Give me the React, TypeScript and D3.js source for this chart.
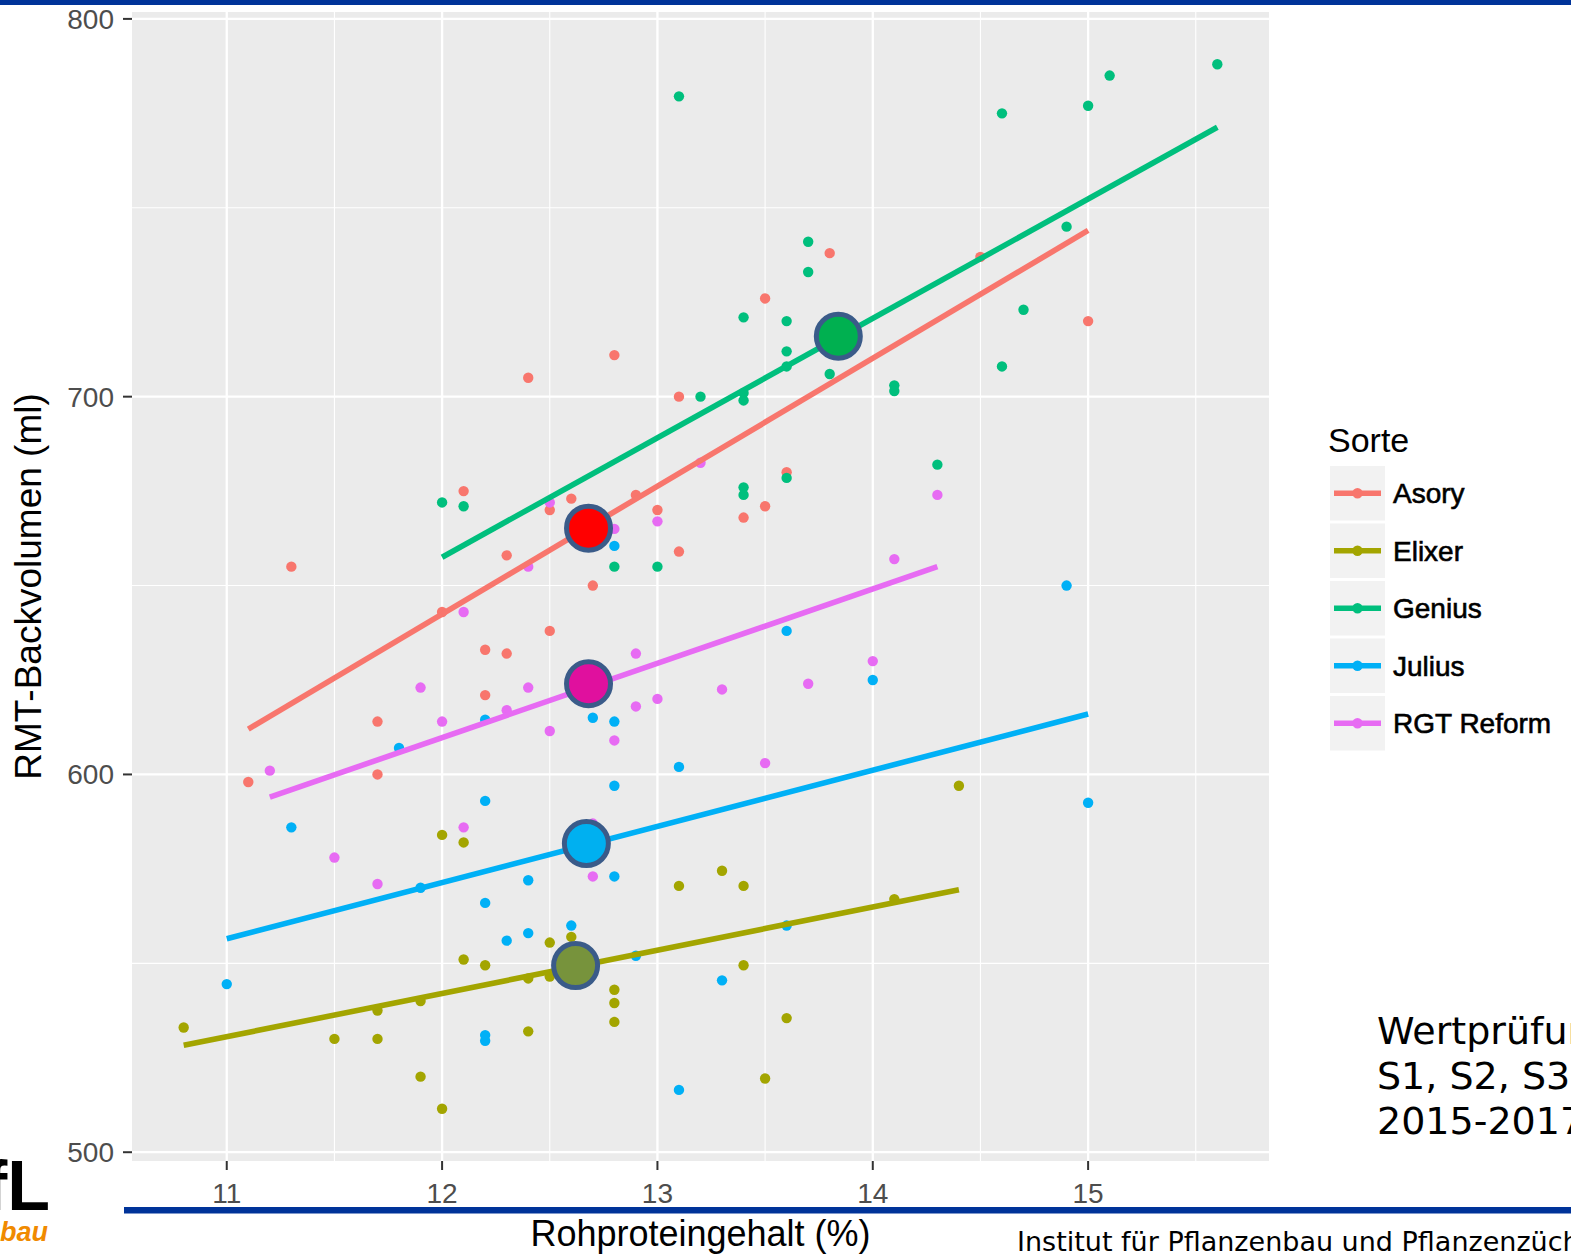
import React from "react";
import * as d3 from "d3";

const W = 1571;
const H = 1257;

// Varieties and their ggplot hue colours
const varieties = ["Asory", "Elixer", "Genius", "Julius", "RGT Reform"];
const colors = ["#F8766D", "#A3A500", "#00BF7D", "#00B0F6", "#E76BF3"];

// Single observations: [Rohproteingehalt %, RMT-Backvolumen ml]
const asory: [number, number][] = [
  [11.1, 598], [11.3, 655], [11.7, 614], [11.7, 600], [12.0, 643], [12.1, 675],
  [12.2, 633], [12.2, 621], [12.3, 658], [12.3, 632], [12.4, 705], [12.5, 670],
  [12.5, 638], [12.6, 673], [12.7, 650], [12.8, 711], [12.9, 674], [13.0, 670],
  [13.1, 700], [13.1, 659], [13.4, 668], [13.5, 726], [13.5, 671], [13.6, 680],
  [13.8, 738], [14.5, 737], [15.0, 720],
];
const elixer: [number, number][] = [
  [10.8, 533], [11.5, 530], [11.7, 530], [11.7, 537.5], [11.9, 540], [11.9, 520],
  [12.0, 584], [12.0, 511.5], [12.1, 582], [12.1, 551], [12.2, 549.5], [12.4, 546],
  [12.4, 532], [12.5, 555.5], [12.5, 546.5], [12.6, 557], [12.8, 543], [12.8, 539.5],
  [12.8, 534.5], [13.1, 570.5], [13.3, 574.5], [13.4, 570.5], [13.4, 549.5],
  [13.5, 519.5], [13.6, 535.5], [14.1, 567], [14.4, 597],
];
const genius: [number, number][] = [
  [12.0, 672], [12.1, 671], [12.8, 655], [13.0, 655], [13.1, 779.5], [13.2, 700],
  [13.4, 721], [13.4, 701], [13.4, 699], [13.4, 676], [13.4, 674], [13.6, 720],
  [13.6, 712], [13.6, 708], [13.6, 678.5], [13.7, 741], [13.7, 733], [13.8, 706],
  [14.1, 703], [14.1, 701.5], [14.3, 682], [14.6, 775], [14.6, 708], [14.7, 723],
  [14.9, 745], [15.0, 777], [15.1, 785], [15.6, 788],
];
const julius: [number, number][] = [
  [11.0, 544.5], [11.3, 586], [11.8, 607], [11.9, 570], [12.2, 614.5], [12.2, 593],
  [12.2, 566], [12.2, 531], [12.2, 529.5], [12.3, 556], [12.4, 572], [12.4, 558],
  [12.6, 560], [12.7, 615], [12.8, 660.5], [12.8, 614], [12.8, 597], [12.8, 573],
  [12.9, 552], [13.1, 602], [13.1, 516.5], [13.3, 545.5], [13.6, 638], [13.6, 560],
  [14.0, 625], [14.9, 650], [15.0, 592.5],
];
const rgtReform: [number, number][] = [
  [11.2, 601], [11.5, 578], [11.7, 571], [11.9, 623], [12.0, 614], [12.1, 643],
  [12.1, 586], [12.3, 617], [12.4, 623], [12.4, 655], [12.5, 611.5], [12.5, 672],
  [12.7, 587], [12.7, 573], [12.8, 665], [12.8, 609], [12.9, 632], [12.9, 618],
  [13.0, 667], [13.0, 620], [13.2, 682.5], [13.3, 622.5], [13.5, 603], [13.7, 624],
  [14.0, 630], [14.1, 657], [14.3, 674],
];

// Linear fits per variety: start and end of each regression line
const asoryFit: [number, number][] = [[11.1, 612], [15.0, 744]];
const elixerFit: [number, number][] = [[10.8, 528.3], [14.4, 569.5]];
const geniusFit: [number, number][] = [[12.0, 657.5], [15.6, 771.3]];
const juliusFit: [number, number][] = [[11.0, 556.5], [15.0, 616]];
const rgtReformFit: [number, number][] = [[11.2, 594], [14.3, 655]];

// Variety means (highlighted circles)
const meanPoints: [number, number][] = [
  [12.68, 665.2], [12.62, 549.4], [13.84, 716], [12.67, 581.7], [12.68, 624],
];
const meanFills = ["#FF0000", "#77933C", "#00B050", "#00B0F0", "#E0109E"];

const xTicks = [11, 12, 13, 14, 15];
const xMinor = [11.5, 12.5, 13.5, 14.5, 15.5];
const yTicks = [500, 600, 700, 800];
const yMinor = [550, 650, 750];

const seriesPoints = [asory, elixer, genius, julius, rgtReform];
const seriesFits = [asoryFit, elixerFit, geniusFit, juliusFit, rgtReformFit];

const infoLines = ["Wertprüfung", "S1, S2, S3", "2015-2017"];

const panel = { left: 132, right: 1269, top: 12, bottom: 1161 };

function expand([lo, hi]: [number, number]): [number, number] {
  const pad = (hi - lo) * 0.05;
  return [lo - pad, hi + pad];
}

export default function App() {
  const all = seriesPoints.flat();
  const x = d3
    .scaleLinear()
    .domain(expand(d3.extent(all, (d) => d[0]) as [number, number]))
    .range([panel.left, panel.right]);
  const y = d3
    .scaleLinear()
    .domain(expand(d3.extent(all, (d) => d[1]) as [number, number]))
    .range([panel.bottom, panel.top]);

  const line = d3
    .line<[number, number]>()
    .x((d) => x(d[0]))
    .y((d) => y(d[1]));

  const sans = "'Liberation Sans', Arial, sans-serif";
  const verdana = "'DejaVu Sans', Verdana, sans-serif";
  const blue = "#003399";

  const keyTop = 466;
  const keyStep = 57.5;
  const keyH = 54.5;

  return (
    <svg
      width={W}
      height={H}
      viewBox={`0 0 ${W} ${H}`}
      style={{ position: "absolute", left: 0, top: 0, background: "#fff" }}
    >
      <defs>
        <clipPath id="panelClip">
          <rect
            x={panel.left}
            y={panel.top}
            width={panel.right - panel.left}
            height={panel.bottom - panel.top}
          />
        </clipPath>
      </defs>

      {/* slide frame bars */}
      <rect x={0} y={0} width={W} height={5} fill={blue} />
      <rect x={124} y={1207} width={W - 124} height={6.5} fill={blue} />

      {/* panel */}
      <rect
        x={panel.left}
        y={panel.top}
        width={panel.right - panel.left}
        height={panel.bottom - panel.top}
        fill="#EBEBEB"
      />
      {xMinor.map((v) => (
        <line key={"xm" + v} x1={x(v)} x2={x(v)} y1={panel.top} y2={panel.bottom} stroke="#fff" strokeWidth={1.1} />
      ))}
      {yMinor.map((v) => (
        <line key={"ym" + v} x1={panel.left} x2={panel.right} y1={y(v)} y2={y(v)} stroke="#fff" strokeWidth={1.1} />
      ))}
      {xTicks.map((v) => (
        <line key={"xg" + v} x1={x(v)} x2={x(v)} y1={panel.top} y2={panel.bottom} stroke="#fff" strokeWidth={2.3} />
      ))}
      {yTicks.map((v) => (
        <line key={"yg" + v} x1={panel.left} x2={panel.right} y1={y(v)} y2={y(v)} stroke="#fff" strokeWidth={2.3} />
      ))}

      {/* points and regression lines */}
      <g clipPath="url(#panelClip)">
        {seriesPoints.map((pts, i) => (
          <g key={"p" + i}>
            {pts.map((d, j) => (
              <circle key={j} cx={x(d[0])} cy={y(d[1])} r={5.2} fill={colors[i]} />
            ))}
          </g>
        ))}
        {seriesFits.map((f, i) => (
          <path key={"f" + i} d={line(f) || ""} fill="none" stroke={colors[i]} strokeWidth={5.6} />
        ))}
      </g>

      {/* mean markers */}
      {meanPoints.map((d, i) => (
        <circle
          key={"m" + i}
          cx={x(d[0])}
          cy={y(d[1])}
          r={22}
          fill={meanFills[i]}
          stroke="#3A5B89"
          strokeWidth={5}
        />
      ))}

      {/* axes */}
      {yTicks.map((v) => (
        <g key={"yt" + v}>
          <line x1={panel.left - 9} x2={panel.left} y1={y(v)} y2={y(v)} stroke="#333" strokeWidth={2} />
          <text
            x={panel.left - 18}
            y={y(v) + 10}
            textAnchor="end"
            fontFamily={sans}
            fontSize={28}
            fill="#4D4D4D"
          >
            {v}
          </text>
        </g>
      ))}
      {xTicks.map((v) => (
        <g key={"xt" + v}>
          <line x1={x(v)} x2={x(v)} y1={panel.bottom} y2={panel.bottom + 9} stroke="#333" strokeWidth={2} />
          <text
            x={x(v)}
            y={panel.bottom + 42}
            textAnchor="middle"
            fontFamily={sans}
            fontSize={28}
            fill="#4D4D4D"
          >
            {v}
          </text>
        </g>
      ))}
      <text
        x={(panel.left + panel.right) / 2}
        y={1246}
        textAnchor="middle"
        fontFamily={sans}
        fontSize={36}
        fill="#000"
      >
        Rohproteingehalt (%)
      </text>
      <text
        transform={`translate(41, ${(panel.top + panel.bottom) / 2}) rotate(-90)`}
        textAnchor="middle"
        fontFamily={sans}
        fontSize={37}
        fill="#000"
      >
        RMT-Backvolumen (ml)
      </text>

      {/* legend */}
      <text x={1328} y={452} fontFamily={sans} fontSize={34} fill="#000">
        Sorte
      </text>
      {varieties.map((name, i) => {
        const top = keyTop + i * keyStep;
        const cy = top + keyH / 2;
        return (
          <g key={"lg" + i}>
            <rect x={1330} y={top} width={55} height={keyH} fill="#F2F2F2" />
            <line x1={1334} x2={1381} y1={cy} y2={cy} stroke={colors[i]} strokeWidth={5.6} />
            <circle cx={1357.5} cy={cy} r={5.2} fill={colors[i]} />
            <text
              x={1393}
              y={cy + 10}
              fontFamily={sans}
              fontSize={28}
              fill="#000"
              stroke="#000"
              strokeWidth={0.6}
            >
              {name}
            </text>
          </g>
        );
      })}

      {/* slide text */}
      {infoLines.map((t, i) => (
        <text key={"info" + i} x={1377} y={1044 + i * 45} fontFamily={verdana} fontSize={38} fill="#000">
          {t}
        </text>
      ))}
      <text x={1017} y={1251} fontFamily={verdana} fontSize={27} fill="#000">
        Institut für Pflanzenbau und Pflanzenzüchtung
      </text>

      {/* logo fragment */}
      <text x={50} y={1210} textAnchor="end" fontFamily={sans} fontWeight="bold" fontSize={70} fill="#000">
        LfL
      </text>
      <text
        x={48}
        y={1241}
        textAnchor="end"
        fontFamily={sans}
        fontWeight="bold"
        fontStyle="italic"
        fontSize={27}
        fill="#F08A00"
      >
        Pflanzenbau
      </text>
    </svg>
  );
}
